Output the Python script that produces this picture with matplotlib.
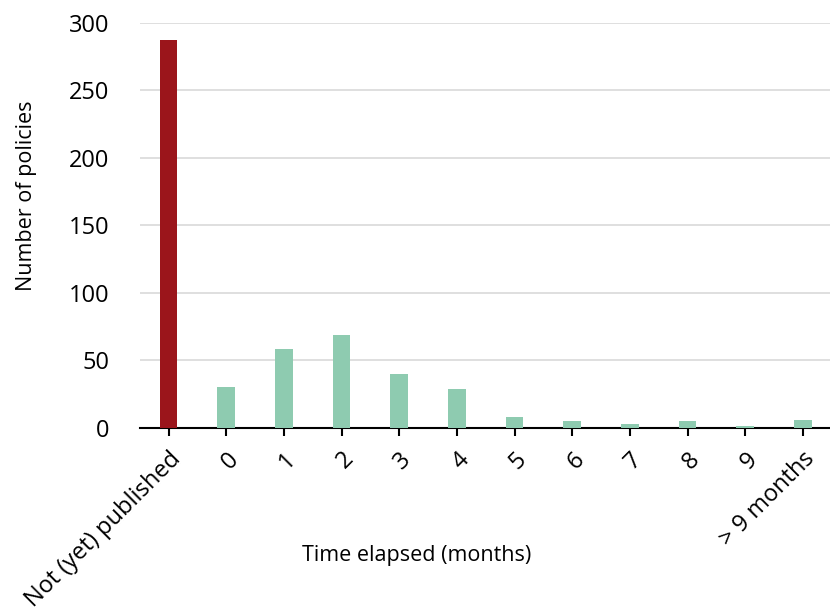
import matplotlib
matplotlib.use('Agg')
import matplotlib.pyplot as plt

# Data
categories = ['Not (yet) published', '0', '1', '2', '3', '4', '5', '6', '7', '8', '9', '> 9 months']
counts = [287, 30, 58, 69, 40, 29, 8, 5, 3, 5, 1, 6]
colors = ['#9b151b'] + ['#8ecbb0'] * (len(categories) - 1)

plt.rcParams['font.family'] = ['Open Sans', 'DejaVu Sans']

fig = plt.figure(figsize=(8.3, 6.12), dpi=100)
ax = fig.add_axes([0.169, 0.301, 0.831, 0.662])

x = list(range(len(categories)))
ax.bar(x, counts, width=0.31, color=colors, zorder=3)

ax.set_ylim(0, 300)
ax.set_xlim(-0.49, 11.47)
ax.set_yticks([0, 50, 100, 150, 200, 250, 300])
ax.yaxis.grid(True, color='#d9d9d9', linewidth=1.2, zorder=0)
ax.set_axisbelow(True)

ax.set_xticks(x)
ax.set_xticklabels(categories, rotation=45, ha='right', rotation_mode='anchor', fontsize=17)
ax.tick_params(axis='y', length=0, labelsize=17, pad=22)
ax.tick_params(axis='x', length=6, width=1.5, color='black', pad=8)

for side in ['left', 'right', 'top']:
    ax.spines[side].set_visible(False)
ax.spines['bottom'].set_linewidth(1.5)

ax.set_ylabel('Number of policies', fontsize=15.5)
ax.set_xlabel('Time elapsed (months)', fontsize=15.5)
ax.yaxis.set_label_coords(-0.15, 0.573)
ax.xaxis.set_label_coords(0.4, -0.29)

fig.savefig('out.png', dpi=100)
